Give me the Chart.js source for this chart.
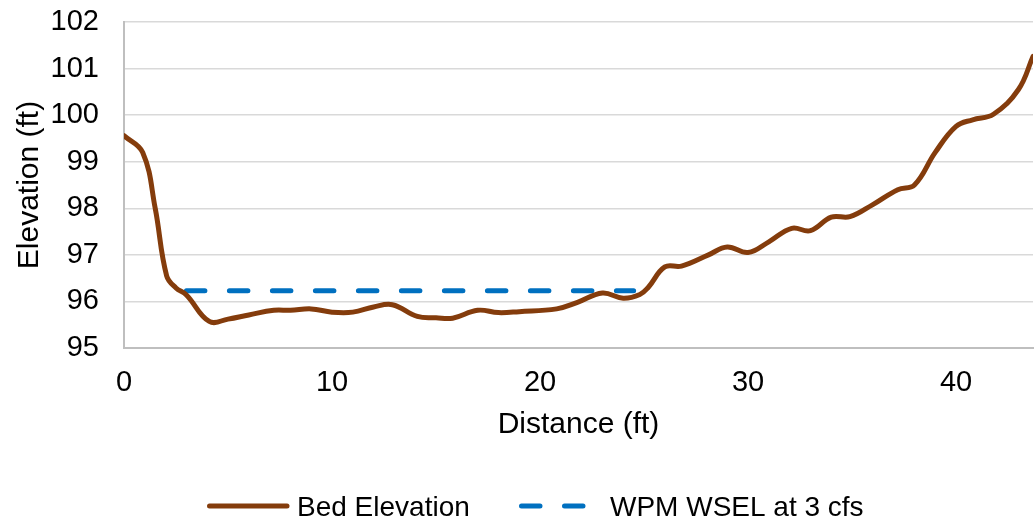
<!DOCTYPE html>
<html>
<head>
<meta charset="utf-8">
<title>Bed Elevation Cross Section</title>
<script src="https://cdn.jsdelivr.net/npm/chart.js@4.4.1/dist/chart.umd.min.js"></script>
<style>
  html, body { margin: 0; padding: 0; background: #fff; }
  #wrap { width: 1034px; height: 521px; }
</style>
</head>
<body>
<div id="wrap"><canvas id="xsec" width="1034" height="521"></canvas></div>
<script>
// surveyed bed profile (distance ft, elevation ft)
const bedDistance = [0, 0.9, 1.5, 2.05, 2.5, 3.0, 4.1, 5.0, 6.0, 7.2, 8.0, 9.0, 10.0, 11.0, 12.0, 12.9,
  14.1, 15.0, 15.8, 17.0, 18.0, 19.0, 20.8, 21.8, 23.0, 24.0, 24.8, 25.2, 26.0, 26.8, 28.1, 29.0,
  30.0, 31.0, 32.1, 33.0, 34.0, 34.9, 36.0, 37.2, 38.0, 39.0, 40.0, 40.8, 41.8, 43.0, 43.7];
const bedElevation = [99.56, 99.2, 98.0, 96.55, 96.29, 96.14, 95.57, 95.62, 95.71, 95.81, 95.81, 95.84, 95.77, 95.77, 95.88, 95.93,
  95.68, 95.65, 95.64, 95.81, 95.76, 95.78, 95.84, 95.98, 96.18, 96.07, 96.15, 96.3, 96.74, 96.76, 97.0, 97.17,
  97.05, 97.28, 97.57, 97.52, 97.81, 97.82, 98.08, 98.4, 98.5, 99.2, 99.76, 99.9, 100.02, 100.55, 101.26];

// water surface from the WPM run
const wselDistance = [3.0, 24.5];
const wselElevation = [96.23, 96.23];

const seriesNames = ["Bed Elevation", "WPM WSEL at 3 cfs"];
const xRange = [0, 43.7];
const yRange = [95, 102];

const BROWN = "#843C0C";
const BLUE = "#0070C0";
const LINE_W = 5;
const DASH = [18.5, 24.5];
const FONT = "'Liberation Sans', Arial, Helvetica, sans-serif";

const toPoints = (xs, ys) => xs.map((x, i) => ({ x: x, y: ys[i] }));

Chart.defaults.font.family = FONT;
Chart.defaults.color = "#000";

// legend drawn under the axis title
const bottomLegend = {
  id: "bottomLegend",
  afterDraw(chart) {
    const ctx = chart.ctx;
    const y = 506;
    ctx.save();
    ctx.lineWidth = LINE_W;
    ctx.lineCap = "round";

    ctx.strokeStyle = BROWN;
    ctx.setLineDash([]);
    ctx.beginPath();
    ctx.moveTo(209.5, y);
    ctx.lineTo(287, y);
    ctx.stroke();

    ctx.strokeStyle = BLUE;
    ctx.setLineDash(DASH);
    ctx.beginPath();
    ctx.moveTo(521.5, y);
    ctx.lineTo(585, y);
    ctx.stroke();

    ctx.setLineDash([]);
    ctx.fillStyle = "#000";
    ctx.font = "28px " + FONT;
    ctx.textBaseline = "alphabetic";
    ctx.textAlign = "left";
    ctx.fillText(seriesNames[0], 297, 516);
    ctx.fillText(seriesNames[1], 610, 516);
    ctx.restore();
  }
};

new Chart(document.getElementById("xsec"), {
  type: "line",
  data: {
    datasets: [
      {
        label: seriesNames[0],
        data: toPoints(bedDistance, bedElevation),
        borderColor: BROWN,
        borderWidth: LINE_W,
        pointRadius: 0,
        tension: 0.4,
        borderCapStyle: "round",
        borderJoinStyle: "round",
        fill: false
      },
      {
        label: seriesNames[1],
        data: toPoints(wselDistance, wselElevation),
        borderColor: BLUE,
        borderWidth: LINE_W,
        borderDash: DASH,
        borderCapStyle: "round",
        pointRadius: 0,
        tension: 0,
        fill: false
      }
    ]
  },
  options: {
    responsive: false,
    animation: false,
    layout: { padding: { top: 22, right: 1, bottom: 0, left: 0 } },
    plugins: {
      legend: { display: false },
      tooltip: { enabled: false }
    },
    scales: {
      x: {
        type: "linear",
        min: xRange[0],
        max: xRange[1],
        afterFit: (s) => { s.height = 173; s.paddingLeft = 0; s.paddingRight = 0; },
        ticks: { stepSize: 10, includeBounds: false, padding: 18, font: { size: 29 } },
        grid: { display: false, drawTicks: false },
        border: { display: true, color: "#BFBFBF", width: 2 },
        title: { display: true, text: "Distance (ft)", font: { size: 30 }, padding: { top: 0, bottom: 78 } }
      },
      y: {
        min: yRange[0],
        max: yRange[1],
        afterFit: (s) => { s.width = 124; s.paddingTop = 0; s.paddingBottom = 0; },
        ticks: { stepSize: 1, padding: 25, font: { size: 29 } },
        grid: { color: "#D9D9D9", lineWidth: 1.5, drawTicks: false },
        border: { display: true, color: "#BFBFBF", width: 2 },
        title: { display: true, text: "Elevation (ft)", font: { size: 30 }, padding: { top: 12, bottom: 0 } }
      }
    }
  },
  plugins: [bottomLegend]
});
</script>
</body>
</html>
